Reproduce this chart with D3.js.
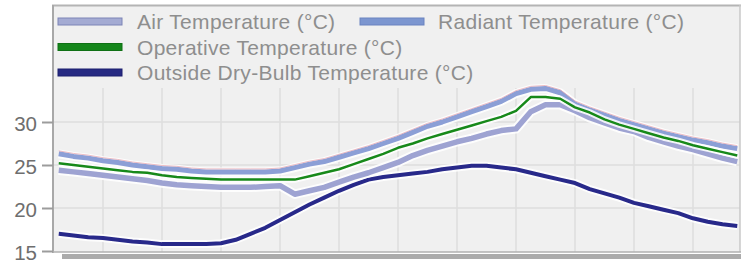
<!DOCTYPE html>
<html>
<head>
<meta charset="utf-8">
<script src="https://cdn.jsdelivr.net/npm/d3@7"></script>
<style>
  body { margin: 0; background: #fff; }
  svg { display: block; font-family: "Liberation Sans", Arial, sans-serif; }
</style>
</head>
<body>
<div id="chart"></div>
<script>
// half-hourly values, hours 0.5 .. 23.5
var hours = d3.range(0.5, 24, 0.5);

var airTemp = [24.4,24.2,24.0,23.8,23.6,23.4,23.2,22.9,22.7,22.6,
  22.5,22.4,22.4,22.4,22.5,22.6,21.6,22.0,22.4,23.0,
  23.6,24.1,24.7,25.3,26.1,26.7,27.2,27.7,28.1,28.6,
  29.0,29.2,31.2,32.0,32.0,31.3,30.5,29.9,29.3,28.9,
  28.2,27.7,27.2,26.8,26.3,25.8,25.4];

var radiantTemp = [26.3,26.0,25.8,25.5,25.3,25.0,24.8,24.6,24.5,24.3,
  24.2,24.2,24.2,24.2,24.2,24.3,24.7,25.1,25.4,25.9,
  26.4,26.9,27.5,28.1,28.8,29.5,30.0,30.6,31.2,31.8,
  32.4,33.3,33.8,33.9,33.4,32.1,31.4,30.8,30.2,29.7,
  29.2,28.7,28.3,27.9,27.6,27.2,26.9];

var operativeTemp = [25.2,25.0,24.8,24.6,24.4,24.2,24.1,23.8,23.6,23.5,
  23.4,23.3,23.3,23.3,23.3,23.3,23.3,23.7,24.1,24.5,
  25.1,25.7,26.3,27.0,27.5,28.1,28.6,29.1,29.6,30.1,
  30.6,31.3,32.9,32.9,32.7,31.7,31.1,30.3,29.7,29.2,
  28.7,28.2,27.8,27.3,26.9,26.5,26.1];

var outsideTemp = [17.0,16.8,16.6,16.5,16.3,16.1,16.0,15.8,15.8,15.8,
  15.8,15.9,16.3,17.0,17.7,18.6,19.5,20.4,21.2,22.0,
  22.7,23.3,23.6,23.8,24.0,24.2,24.5,24.7,24.9,24.9,
  24.7,24.5,24.1,23.7,23.3,22.9,22.2,21.7,21.2,20.6,
  20.2,19.8,19.4,18.8,18.4,18.1,17.9];

var yTicks = [15, 20, 25, 30];
var gridHours = [2, 4, 6, 8, 10, 12, 14, 16, 18, 20, 22];
var gridTemps = [20, 25, 30, 35];

var seriesNames = ["Air Temperature (°C)", "Radiant Temperature (°C)",
  "Operative Temperature (°C)", "Outside Dry-Bulb Temperature (°C)"];

var W = 741, H = 264;
var plot = {left: 53, right: 740, top: 5, bottom: 252};

var svg = d3.select("#chart").append("svg")
  .attr("width", W)
  .attr("height", H);

var x = d3.scaleLinear().domain([0, 24]).range([44, 752]);
var y = d3.scaleLinear().domain([15, 30]).range([251, 122]);

svg.append("defs").append("clipPath").attr("id", "clip")
  .append("rect")
  .attr("x", plot.left).attr("y", plot.top)
  .attr("width", plot.right - plot.left).attr("height", plot.bottom - plot.top);

// plot background
svg.append("rect")
  .attr("x", plot.left).attr("y", plot.top)
  .attr("width", plot.right - plot.left).attr("height", plot.bottom - plot.top)
  .attr("fill", "#f0f0f0");

var grid = svg.append("g").attr("clip-path", "url(#clip)");
grid.selectAll(".vgrid")
  .data(gridHours)
  .enter().append("line")
  .attr("x1", function(d) { return x(d); })
  .attr("x2", function(d) { return x(d); })
  .attr("y1", plot.top).attr("y2", plot.bottom)
  .attr("stroke", "#dedede")
  .attr("stroke-width", 1.5);
grid.selectAll(".hgrid")
  .data(gridTemps)
  .enter().append("line")
  .attr("x1", plot.left).attr("x2", plot.right)
  .attr("y1", function(d) { return y(d); })
  .attr("y2", function(d) { return y(d); })
  .attr("stroke", "#dedede")
  .attr("stroke-width", 1.5);

// legend box sits over the top of the plot
svg.append("rect")
  .attr("x", plot.left).attr("y", plot.top)
  .attr("width", plot.right - plot.left).attr("height", 83)
  .attr("fill", "#f0f0f0");

// frame
svg.append("line").attr("x1", plot.left - 1).attr("x2", W)
  .attr("y1", plot.top + 0.5).attr("y2", plot.top + 0.5)
  .attr("stroke", "#b4b4b4").attr("stroke-width", 2);
svg.append("line").attr("x1", plot.right).attr("x2", plot.right)
  .attr("y1", plot.top).attr("y2", plot.bottom)
  .attr("stroke", "#c8c8c8").attr("stroke-width", 1.5);
svg.append("line").attr("x1", plot.left).attr("x2", plot.left)
  .attr("y1", plot.top).attr("y2", plot.bottom + 1)
  .attr("stroke", "#a8a8a8").attr("stroke-width", 2);
svg.append("line").attr("x1", plot.left).attr("x2", W)
  .attr("y1", plot.bottom).attr("y2", plot.bottom)
  .attr("stroke", "#b0b0b0").attr("stroke-width", 1.5);
svg.append("rect")
  .attr("x", 62).attr("y", plot.bottom + 2)
  .attr("width", W - 62).attr("height", 5)
  .attr("fill", "#ababab");

// y axis
var yAxis = svg.append("g")
  .attr("transform", "translate(" + plot.left + ",0)")
  .call(d3.axisLeft(y).tickValues(yTicks).tickSize(11).tickPadding(5));
yAxis.select(".domain").remove();
yAxis.selectAll(".tick line").attr("stroke", "#9c9c9c").attr("stroke-width", 2);
yAxis.selectAll(".tick text")
  .attr("fill", "#6e6e6e")
  .attr("font-size", "20.5px")
  .attr("font-family", "Liberation Sans, Arial, sans-serif")
  .attr("dy", "0.4em");

// series
var line = d3.line()
  .x(function(d, i) { return x(hours[i]); })
  .y(function(d) { return y(d); });

var lines = svg.append("g").attr("clip-path", "url(#clip)");

function drawSeries(data, color, width) {
  lines.append("path")
    .datum(data)
    .attr("fill", "none")
    .attr("stroke", "#ffffff")
    .attr("stroke-opacity", 0.85)
    .attr("stroke-width", width + 4)
    .attr("stroke-linejoin", "round")
    .attr("d", line);
  lines.append("path")
    .datum(data)
    .attr("fill", "none")
    .attr("stroke", color)
    .attr("stroke-width", width)
    .attr("stroke-linejoin", "round")
    .attr("d", line);
}

drawSeries(outsideTemp, "#28298a", 4);
drawSeries(airTemp, "#9ea3d2", 5.5);
drawSeries(radiantTemp, "#8c9fd6", 5);
// faint reddish edge along the top of the radiant line
lines.append("path")
  .datum(radiantTemp)
  .attr("fill", "none")
  .attr("stroke", "#e6a3ad")
  .attr("stroke-opacity", 0.7)
  .attr("stroke-width", 1)
  .attr("transform", "translate(0,-3)")
  .attr("d", line);
drawSeries(operativeTemp, "#17891a", 2.5);

// legend
var legendItems = [
  {name: seriesNames[0], fill: "#a4abd3", stroke: "#7c84b6", sx: 58, tx: 137, cy: 21.5},
  {name: seriesNames[1], fill: "#7c96d0", stroke: "#6a83c0", sx: 360, tx: 438, cy: 21.5},
  {name: seriesNames[2], fill: "#15861a", stroke: "#0f7014", sx: 58, tx: 137, cy: 47},
  {name: seriesNames[3], fill: "#272a83", stroke: "#1d1f6e", sx: 58, tx: 137, cy: 72.5}
];

var leg = svg.append("g").selectAll("g")
  .data(legendItems)
  .enter().append("g");

leg.append("rect")
  .attr("x", function(d) { return d.sx; })
  .attr("y", function(d) { return d.cy - 3.5; })
  .attr("width", 64)
  .attr("height", 7)
  .attr("fill", function(d) { return d.fill; })
  .attr("stroke", function(d) { return d.stroke; })
  .attr("stroke-width", 1);

leg.append("text")
  .attr("x", function(d) { return d.tx; })
  .attr("y", function(d) { return d.cy + 7.5; })
  .attr("fill", "#8e8e8e")
  .attr("font-size", "21px")
  .attr("letter-spacing", "0.3px")
  .text(function(d) { return d.name; });
</script>
</body>
</html>
